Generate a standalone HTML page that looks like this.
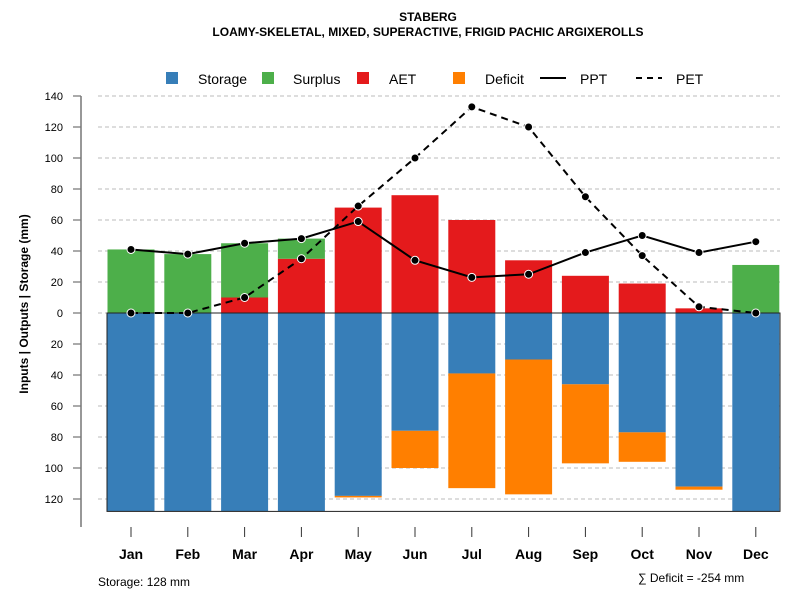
<!DOCTYPE html>
<html><head><meta charset="utf-8"><style>
body{margin:0;background:#fff;}
svg text{font-family:"Liberation Sans",Arial,sans-serif;}
</style></head><body>
<svg id="chart" width="800" height="600" xmlns="http://www.w3.org/2000/svg">
<text x="428" y="21" text-anchor="middle" font-size="12" font-weight="bold">STABERG</text>
<text x="428" y="36" text-anchor="middle" font-size="12" font-weight="bold">LOAMY-SKELETAL, MIXED, SUPERACTIVE, FRIGID PACHIC ARGIXEROLLS</text>
<g>
<rect x="166" y="72" width="12" height="12" fill="#377eb8"/>
<text x="198" y="84" font-size="14">Storage</text>
<rect x="262" y="72" width="12" height="12" fill="#4daf4a"/>
<text x="293" y="84" font-size="14">Surplus</text>
<rect x="357" y="72" width="12" height="12" fill="#e41a1c"/>
<text x="389" y="84" font-size="14">AET</text>
<rect x="453" y="72" width="12" height="12" fill="#ff7f00"/>
<text x="485" y="84" font-size="14">Deficit</text>
<line x1="540" y1="78" x2="566" y2="78" stroke="#000" stroke-width="2"/>
<text x="580" y="84" font-size="14">PPT</text>
<line x1="636" y1="78" x2="662" y2="78" stroke="#000" stroke-width="2" stroke-dasharray="6,5"/>
<text x="676" y="84" font-size="14">PET</text>
</g>
<text transform="translate(28,304) rotate(-90)" text-anchor="middle" font-size="12" font-weight="bold">Inputs | Outputs | Storage    (mm)</text>
<text x="98" y="586" font-size="12">Storage: 128 mm</text>
<text x="638" y="582" font-size="12">∑ Deficit = -254 mm</text>
<g id="plot"></g>
</svg>
<script>
const months=["Jan","Feb","Mar","Apr","May","Jun","Jul","Aug","Sep","Oct","Nov","Dec"];
const storage=[128,128,128,128,118,76,39,30,46,77,112,128];
const deficit=[0,0,0,0,1,24,74,87,51,19,2,0];
const aet=[0,0,10,35,68,76,60,34,24,19,3,0];
const surplus=[41,38,35,13,0,0,0,0,0,0,0,31];
const ppt=[41,38,45,48,59,34,23,25,39,50,39,46];
const pet=[0,0,10,35,69,100,133,120,75,37,4,0];
const yTicks=[140,120,100,80,60,40,20,0,20,40,60,80,100,120];
const yTickVals=[140,120,100,80,60,40,20,0,-20,-40,-60,-80,-100,-120];
const NS="http://www.w3.org/2000/svg";
const g=document.getElementById('plot');
const y=v=>313-v*1.55;
const x=i=>131+i*56.8;
const bw=47;
function mk(t,a){const e=document.createElementNS(NS,t);for(const k in a)e.setAttribute(k,a[k]);g.appendChild(e);return e;}
yTickVals.forEach((v,i)=>{
 const l=mk('line',{x1:98,x2:780,y1:y(v),y2:y(v),stroke:'#bbb','stroke-dasharray':'4,3'});
 
 
 const t=mk('line',{x1:73,x2:81,y1:y(v),y2:y(v),stroke:'#555'});
 
 
 const tx=mk('text',{x:63,y:y(v)+4,'text-anchor':'end','font-size':11});
 tx.textContent=yTicks[i];
 
 
});
const ax=mk('line',{x1:81,x2:81,y1:96,y2:527,stroke:'#777','stroke-width':1.5});


months.forEach((m,i)=>{
 const cx=x(i),l=cx-bw/2;
 let r=mk('rect',{x:l,y:y(0),width:bw,height:y(-storage[i])-y(0),fill:'#377eb8'});
 
 
 if(deficit[i]>0){r=mk('rect',{x:l,y:y(-storage[i]),width:bw,height:deficit[i]*1.55,fill:'#ff7f00'});
 
 }
 if(aet[i]>0){r=mk('rect',{x:l,y:y(aet[i]),width:bw,height:aet[i]*1.55,fill:'#e41a1c'});
 
 }
 if(surplus[i]>0){r=mk('rect',{x:l,y:y(aet[i]+surplus[i]),width:bw,height:surplus[i]*1.55,fill:'#4daf4a'});
 
 }
 const t=mk('line',{x1:cx,x2:cx,y1:527,y2:537,stroke:'#333'});
 
 
 const tx=mk('text',{x:cx,y:559,'text-anchor':'middle','font-size':14,'font-weight':'bold'});
 tx.textContent=m;
 
 
});
const box=mk('rect',{x:107,y:y(0),width:673,height:y(-128)-y(0),fill:'none',stroke:'#222','stroke-width':1});


function series(arr,name,dash){
 const p=mk('polyline',{points:arr.map((v,i)=>x(i)+','+y(v)).join(' '),fill:'none',stroke:'#000','stroke-width':2,'stroke-dasharray':dash});
 
 
 arr.forEach((v,i)=>{const c=mk('circle',{cx:x(i),cy:y(v),r:4,fill:'#000',stroke:'#fff','stroke-width':1});
 
 });
}
series(pet,'pet','7,5');
series(ppt,'ppt','none');
</script>
</body></html>
